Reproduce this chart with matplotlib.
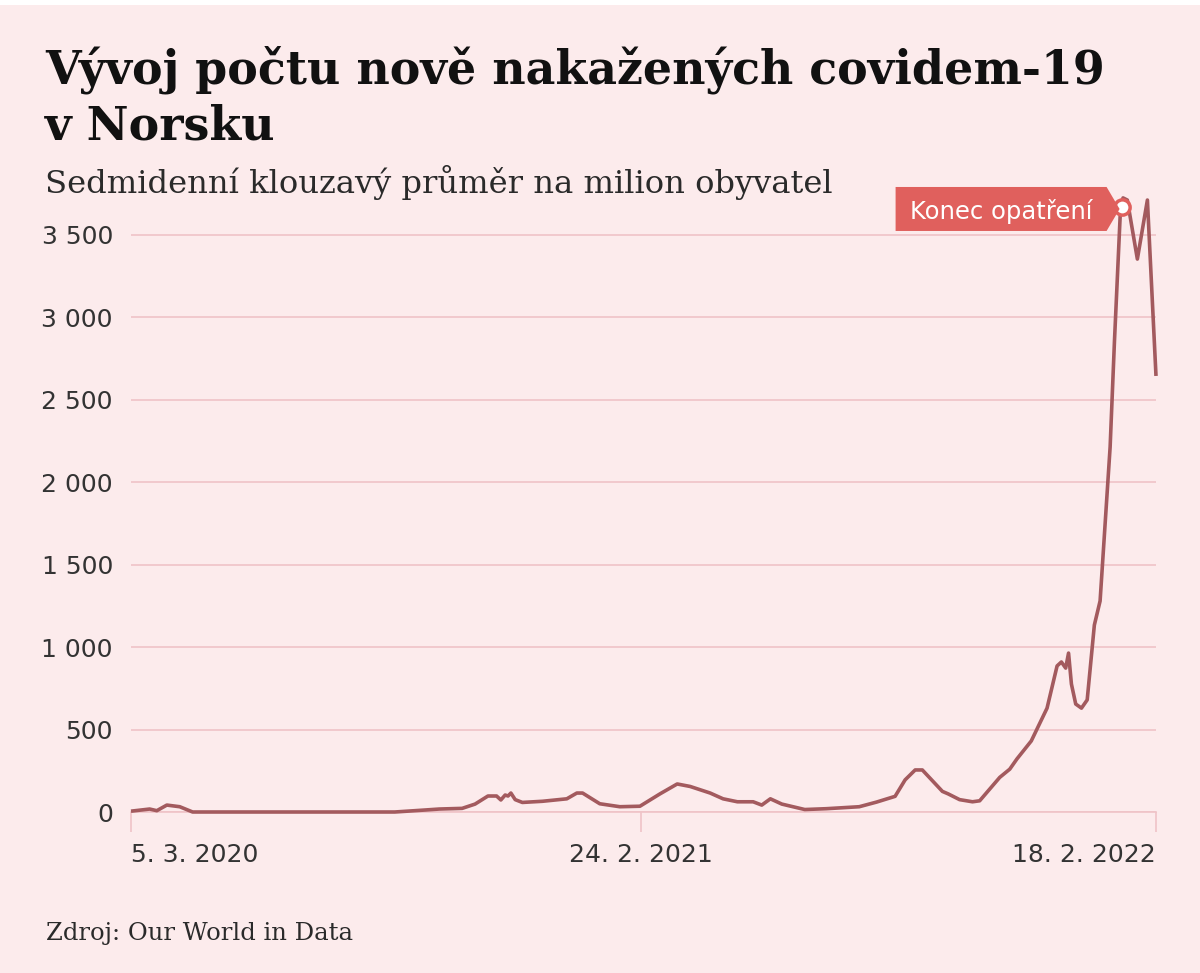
import numpy as np
import pandas as pd
import matplotlib
matplotlib.use("Agg")
import matplotlib.pyplot as plt
from matplotlib.patches import Polygon, Rectangle
import matplotlib.transforms as mtransforms

# ---------------- data ----------------
start_date = "2020-03-05"
day_offsets = [0, 13, 18, 25, 34, 43, 184, 205, 215, 231, 240, 249, 255, 258,
               261, 263, 265, 268, 273, 287, 304, 311, 315, 327, 341, 355, 369,
               381, 390, 404, 413, 423, 434, 440, 446, 454, 470, 485, 508, 520,
               533, 540, 547, 552, 566, 570, 578, 587, 592, 606, 613, 618, 628,
               639, 646, 649, 652, 654, 656, 659, 663, 667, 672, 676, 683, 686,
               690, 692, 695, 702, 709, 715]
cases_per_million = [5, 18, 8, 42, 32, 0, 0, 12, 18, 22, 48, 97, 97, 73,
                     103, 97, 115, 75, 58, 65, 80, 115, 115, 50, 32, 35, 110,
                     170, 155, 115, 80, 62, 62, 42, 80, 48, 15, 20, 32, 60,
                     95, 195, 255, 255, 125, 110, 75, 62, 68, 210, 260, 322, 431,
                     630, 886, 910, 873, 964, 776, 655, 630, 680, 1134, 1280, 2214, 2851,
                     3615, 3725, 3712, 3354, 3712, 2645]
ytick_values = [0, 500, 1000, 1500, 2000, 2500, 3000, 3500]
ytick_labels = ["0", "500", "1 000", "1 500", "2 000", "2 500", "3 000", "3 500"]
xtick_dates = ["2020-03-05", "2021-02-24", "2022-02-18"]
xtick_labels = ["5. 3. 2020", "24. 2. 2021", "18. 2. 2022"]
event_label = "Konec opatření"
event_day = 691

title_line1 = "Vývoj počtu nově nakažených covidem-19"
title_line2 = "v Norsku"
subtitle = "Sedmidenní klouzavý průměr na milion obyvatel"
source = "Zdroj: Our World in Data"

# ---------------- style ----------------
BG = "#fcebec"
GRID = "#efc3c7"
LINE = "#a35a5e"
TAG = "#e0605d"
TXT = "#333333"

W, H = 1200, 973
fig = plt.figure(figsize=(W / 100, H / 100), dpi=100, facecolor=BG)
fig.add_artist(Rectangle((0, 1 - 5 / H), 1, 5 / H, transform=fig.transFigure,
                         facecolor="white", edgecolor="none"))

dates = pd.to_datetime(start_date) + pd.to_timedelta(day_offsets, unit="D")
values = np.array(cases_per_million, dtype=float)

x0_px, x1_px = 131, 1156
y0_px = 812
px_per_unit = (812 - 235) / 3500.0
ytop = 3750
ax_h_px = ytop * px_per_unit
ax = fig.add_axes([x0_px / W, (H - y0_px) / H, (x1_px - x0_px) / W, ax_h_px / H])
ax.set_facecolor(BG)
ax.set_xlim(pd.to_datetime(xtick_dates[0]), pd.to_datetime(xtick_dates[-1]))
ax.set_ylim(0, ytop)

for s in ["top", "right", "left"]:
    ax.spines[s].set_visible(False)
ax.spines["bottom"].set_color(GRID)
ax.spines["bottom"].set_linewidth(1.2)

ax.set_yticks(ytick_values)
ax.set_yticklabels(ytick_labels)
ax.yaxis.grid(True, color=GRID, linewidth=1.2)
ax.set_axisbelow(True)
ax.tick_params(axis="y", length=0, pad=13, labelsize=18, labelcolor=TXT)

ax.set_xticks(pd.to_datetime(xtick_dates))
ax.set_xticklabels(xtick_labels)
ax.tick_params(axis="x", length=14.5, width=1.2, color=GRID, pad=8,
               labelsize=18, labelcolor=TXT)
xt = ax.get_xticklabels()
xt[0].set_ha("left")
xt[1].set_ha("center")
xt[2].set_ha("right")
for lab in ax.get_yticklabels() + xt:
    lab.set_family("DejaVu Sans")

ax.plot(dates, values, color=LINE, linewidth=2.6, solid_joinstyle="round",
        solid_capstyle="butt", zorder=3, clip_on=False)

# event marker + tag
ev_date = pd.to_datetime(start_date) + pd.Timedelta(days=event_day)
ev_val = float(np.interp(event_day, day_offsets, cases_per_million))
mx, my = ax.transData.transform((matplotlib.dates.date2num(ev_date), ev_val))
my -= 2
tag = Polygon([(mx - 226, my + 22), (mx - 15, my + 22), (mx - 2, my),
               (mx - 15, my - 22), (mx - 226, my - 22)], closed=True,
              transform=mtransforms.IdentityTransform(), facecolor=TAG,
              edgecolor="none", zorder=4)
fig.add_artist(tag)
fig.text(mx - 120, my, event_label, transform=mtransforms.IdentityTransform(),
         ha="center", va="center_baseline", color="white", fontsize=17.5,
         family="DejaVu Sans", zorder=5)
ax.plot([ev_date], [ev_val], marker="o", markersize=11, markerfacecolor="white",
        markeredgecolor=TAG, markeredgewidth=2.5, zorder=6, clip_on=False)

# ---------------- texts fitted to reference widths ----------------
renderer = fig.canvas.get_renderer()


def fitted_text(x_px, base_px, s, target_w, family, weight="normal", color="#111111"):
    t = fig.text(x_px / W, (H - base_px) / H, s, ha="left", va="baseline",
                 fontsize=20, family=family, weight=weight, color=color)
    w = t.get_window_extent(renderer).width
    size = 20 * target_w / w
    t.set_fontsize(size)
    return size


tsize = fitted_text(45, 84, title_line1, 1060, "DejaVu Serif", "bold", "#111111")
fig.text(45 / W, (H - 139) / H, title_line2, ha="left", va="baseline",
         fontsize=tsize, family="DejaVu Serif", weight="bold", color="#111111")
fitted_text(45, 193, subtitle, 785, "DejaVu Serif", "normal", "#2a2a2a")
fitted_text(46, 940, source, 307, "DejaVu Serif", "normal", "#2a2a2a")

fig.savefig("out.png", dpi=100, facecolor=BG)
